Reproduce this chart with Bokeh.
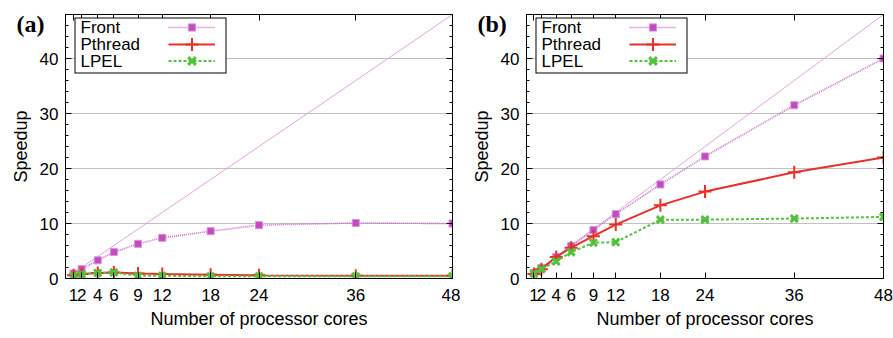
from bokeh.plotting import figure
from bokeh.layouts import row
from bokeh.models import (Range1d, FixedTicker, SingleIntervalTicker, LinearAxis, Legend,
                          LegendItem, Label, BoxAnnotation, Title)
from bokeh.core.properties import value
from bokeh.embed import file_html
from bokeh.resources import INLINE

cores = [1, 2, 4, 6, 9, 12, 18, 24, 36, 48]
ideal = [1, 2, 4, 6, 9, 12, 18, 24, 36, 48]

front_a = [0.9, 1.7, 3.3, 4.8, 6.3, 7.4, 8.6, 9.7, 10.1, 10.0]
pthread_a = [0.6, 0.8, 1.0, 1.1, 0.9, 0.8, 0.7, 0.6, 0.5, 0.5]
lpel_a = [0.5, 0.8, 1.0, 1.1, 0.5, 0.5, 0.4, 0.4, 0.4, 0.4]

front_b = [1.0, 1.9, 3.9, 5.9, 8.8, 11.7, 17.1, 22.2, 31.5, 40.0]
pthread_b = [0.8, 1.7, 3.9, 5.6, 7.7, 9.8, 13.3, 15.8, 19.3, 22.0]
lpel_b = [0.9, 1.7, 3.1, 4.8, 6.5, 6.6, 10.7, 10.7, 10.9, 11.2]

series_names = ["Front", "Pthread", "LPEL"]
y_ticks = [0, 10, 20, 30, 40]

FONT = "Liberation Sans"
FRONT_C = "#c04cc0"
FRONT_LINE = "#cc66cc"
IDEAL_C = "#e4a4e4"
PTH_C = "#e8302a"
LPEL_C = "#52c23c"


def style_axis(ax, ticker, labels=True):
    ax.ticker = ticker
    ax.axis_line_color = "black"
    ax.major_tick_line_color = "black"
    ax.minor_tick_line_color = "black"
    ax.major_tick_in = 6
    ax.major_tick_out = 0
    ax.minor_tick_in = 3
    ax.minor_tick_out = 0
    if labels:
        ax.major_label_text_font = FONT
        ax.major_label_text_font_size = "17px"
        ax.major_label_text_color = "black"
        ax.axis_label_text_font = FONT
        ax.axis_label_text_font_size = "18px"
        ax.axis_label_text_font_style = "normal"
        ax.axis_label_text_color = "black"
    else:
        ax.major_label_text_font_size = "1px"
        ax.major_label_text_color = None
        ax.major_label_standoff = 0


def screen_box(left, right, top, bottom, color):
    return BoxAnnotation(left=left, right=right, top=top, bottom=bottom,
                         left_units="screen", right_units="screen",
                         top_units="screen", bottom_units="screen",
                         fill_color=color, fill_alpha=1, line_alpha=0)


def make_panel(tag, front, pthread, lpel, width, bl, br):
    title = Title(text=tag, text_font="Liberation Serif", text_font_style="bold",
                  text_font_size="24px", text_color="black", align="left",
                  vertical_align="bottom", offset=-49, standoff=-44)
    p = figure(width=width, height=338, x_range=Range1d(0, 48), y_range=Range1d(0, 48),
               output_backend="svg", toolbar_location=None, title=title,
               min_border_left=bl, min_border_right=br, min_border_top=14, min_border_bottom=60)
    p.outline_line_color = "black"
    p.background_fill_color = "white"
    p.border_fill_color = "white"

    xt = FixedTicker(ticks=cores)
    yt = SingleIntervalTicker(interval=10, num_minor_ticks=5)
    style_axis(p.xaxis[0], xt)
    style_axis(p.yaxis[0], yt)
    p.xaxis.axis_label = "Number of processor cores"
    p.yaxis.axis_label = "Speedup"
    p.xaxis.major_label_standoff = 10
    p.yaxis.major_label_standoff = 7
    p.xaxis.axis_label_standoff = 5
    p.yaxis.axis_label_standoff = 6

    top = LinearAxis()
    style_axis(top, FixedTicker(ticks=cores), labels=False)
    p.add_layout(top, "above")
    right = LinearAxis()
    style_axis(right, SingleIntervalTicker(interval=10, num_minor_ticks=5), labels=False)
    p.add_layout(right, "right")

    p.xgrid.visible = False
    p.ygrid.ticker = FixedTicker(ticks=y_ticks[1:])
    p.ygrid.grid_line_color = "#808080"
    p.ygrid.grid_line_dash = "1 1"
    p.ygrid.grid_line_width = 1

    p.line(cores, ideal, color=IDEAL_C, line_width=1)

    fl = p.line(cores, front, color=FRONT_LINE, line_width=1.6, line_dash="1 1")
    fs = p.scatter(cores, front, marker="square", size=7, fill_color=FRONT_C,
                   line_color="#d890d8", line_width=1)
    pl = p.line(cores, pthread, color=PTH_C, line_width=2)
    ps = p.scatter(cores, pthread, marker="cross", size=13, line_color=PTH_C, line_width=2)
    ll = p.line(cores, lpel, color=LPEL_C, line_width=2, line_dash="3 2")
    ls = p.scatter(cores, lpel, marker="x", size=10, line_color=LPEL_C, line_width=3)

    # legend box: black frame made of an outer box and a white inner box
    p.add_layout(screen_box(9, 161, 261, 205, "black"))
    p.add_layout(screen_box(10, 160, 260, 206, "white"))
    rows = [([fl, fs], 18), ([pl, ps], 32), ([ll, ls], 27)]
    for i, (rends, gh) in enumerate(rows):
        center = 13 + 17 * i
        leg = Legend(items=[LegendItem(label=value(" "), renderers=rends)],
                     location=(103, int(round(264 - center - gh / 2))),
                     glyph_width=47, glyph_height=gh,
                     label_height=10, label_width=0, label_standoff=0,
                     label_text_font_size="8px", padding=0, spacing=0, margin=0,
                     border_line_color=None, background_fill_alpha=0)
        p.add_layout(leg)
    for i, name in enumerate(series_names):
        p.add_layout(Label(x=15, y=251 - 17 * i, x_units="screen", y_units="screen",
                           text=name, text_font=FONT, text_font_size="17px",
                           text_baseline="middle", text_color="black"))
    return p


pa = make_panel("(a)", front_a, pthread_a, lpel_a, 460, 65, 8)
pb = make_panel("(b)", front_b, pthread_b, lpel_b, 433, 66, 10)
layout = row(pa, pb)
open("out.html", "w").write(file_html(layout, INLINE))
